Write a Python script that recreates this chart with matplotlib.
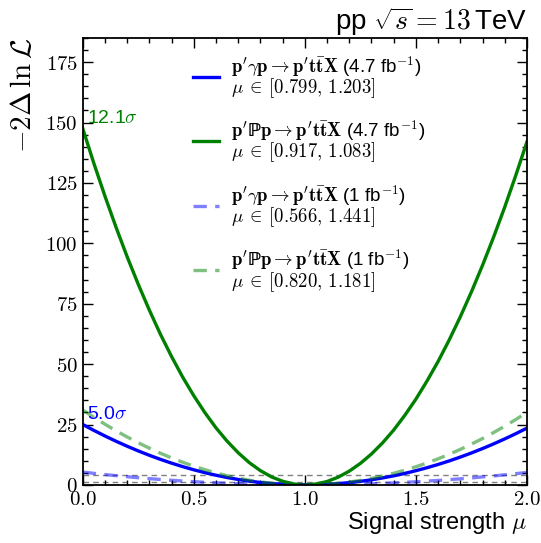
import matplotlib
matplotlib.use('Agg')
import matplotlib.pyplot as plt
from matplotlib.ticker import MultipleLocator, FuncFormatter

plt.rcParams['mathtext.fontset'] = 'cm'
plt.rcParams['font.family'] = ['Liberation Sans', 'DejaVu Sans']

# likelihood scan, -2 Delta ln L vs signal strength
mu = [0.00, 0.05, 0.10, 0.15, 0.20, 0.25, 0.30, 0.35, 0.40, 0.45,
      0.50, 0.55, 0.60, 0.65, 0.70, 0.75, 0.80, 0.85, 0.90, 0.95,
      1.00, 1.05, 1.10, 1.15, 1.20, 1.25, 1.30, 1.35, 1.40, 1.45,
      1.50, 1.55, 1.60, 1.65, 1.70, 1.75, 1.80, 1.85, 1.90, 1.95, 2.00]
nll_photon_47 = [25.0, 22.56, 20.25, 18.06, 16.0, 14.06, 12.25, 10.56, 9.0, 7.56,
                 6.25, 5.06, 4.0, 3.06, 2.25, 1.56, 1.0, 0.56, 0.25, 0.06,
                 0.0, 0.06, 0.24, 0.53, 0.94, 1.47, 2.12, 2.88, 3.76, 4.76,
                 5.88, 7.11, 8.46, 9.93, 11.52, 13.22, 15.04, 16.98, 19.04, 21.21, 23.5]
nll_pomeron_47 = [147.5, 133.1, 119.5, 106.6, 94.4, 83.0, 72.3, 62.3, 53.1, 44.6,
                  36.9, 29.9, 23.6, 18.1, 13.3, 9.2, 5.9, 3.3, 1.5, 0.37,
                  0.0, 0.36, 1.4, 3.2, 5.7, 8.9, 12.8, 17.4, 22.7, 28.8,
                  35.5, 43.0, 51.1, 60.0, 69.6, 79.9, 90.9, 102.6, 115.0, 128.2, 142.0]
nll_photon_1 = [5.3, 4.78, 4.29, 3.83, 3.39, 2.98, 2.6, 2.24, 1.91, 1.6,
                1.33, 1.07, 0.85, 0.65, 0.48, 0.33, 0.21, 0.12, 0.05, 0.01,
                0.0, 0.01, 0.05, 0.12, 0.21, 0.32, 0.46, 0.63, 0.82, 1.04,
                1.29, 1.56, 1.85, 2.18, 2.52, 2.9, 3.3, 3.72, 4.17, 4.65, 5.15]
nll_pomeron_1 = [31.0, 27.98, 25.11, 22.4, 19.84, 17.44, 15.19, 13.1, 11.16, 9.38,
                 7.75, 6.28, 4.96, 3.8, 2.79, 1.94, 1.24, 0.7, 0.31, 0.08,
                 0.0, 0.08, 0.3, 0.68, 1.2, 1.88, 2.7, 3.68, 4.8, 6.08,
                 7.5, 9.08, 10.8, 12.68, 14.7, 16.88, 19.2, 21.68, 24.3, 27.08, 30.0]

labels = [
    r"$\mathbf{p'\gamma p \rightarrow p't\bar{t}X}$ (4.7 fb$^{-1}$)" + "\n" + r"$\mu\:\in\:[0.799,\,1.203]$",
    r"$\mathbf{p'\mathbb{P}p \rightarrow p't\bar{t}X}$ (4.7 fb$^{-1}$)" + "\n" + r"$\mu\:\in\:[0.917,\,1.083]$",
    r"$\mathbf{p'\gamma p \rightarrow p't\bar{t}X}$ (1 fb$^{-1}$)" + "\n" + r"$\mu\:\in\:[0.566,\,1.441]$",
    r"$\mathbf{p'\mathbb{P}p \rightarrow p't\bar{t}X}$ (1 fb$^{-1}$)" + "\n" + r"$\mu\:\in\:[0.820,\,1.181]$",
]
sigma_levels = [1, 4]

fig = plt.figure(figsize=(5.41, 5.43), dpi=100)
ax = fig.add_axes([0.153, 0.107, 0.821, 0.823])

for lvl in sigma_levels:
    ax.axhline(lvl, color='grey', lw=1.0, ls=(0, (4, 3)), zorder=1)

ax.plot(mu, nll_photon_47, color='blue', lw=2.4, label=labels[0])
ax.plot(mu, nll_pomeron_47, color='green', lw=2.4, label=labels[1])
ax.plot(mu, nll_photon_1, color='blue', alpha=0.5, lw=2.4, ls=(0, (4, 2.5)), label=labels[2])
ax.plot(mu, nll_pomeron_1, color='green', alpha=0.5, lw=2.4, ls=(0, (4, 2.5)), label=labels[3])

ax.text(0.02, 151.5, r"12.1$\sigma$", color='green', fontsize=14, va='center')
ax.text(0.02, 29, r"5.0$\sigma$", color='blue', fontsize=14, va='center')

ax.set_xlim(0, 2)
ax.set_ylim(0, 185)
ax.xaxis.set_major_locator(MultipleLocator(0.5))
ax.xaxis.set_minor_locator(MultipleLocator(0.1))
ax.yaxis.set_major_locator(MultipleLocator(25))
ax.yaxis.set_minor_locator(MultipleLocator(5))
ax.xaxis.set_major_formatter(FuncFormatter(lambda v, p: r"$%.1f$" % v))
ax.yaxis.set_major_formatter(FuncFormatter(lambda v, p: r"$%d$" % v))
ax.tick_params(which='both', direction='in', top=True, right=True, labelsize=15, width=1.0)
ax.tick_params(which='major', length=7)
ax.tick_params(which='minor', length=3.5)
for s in ax.spines.values():
    s.set_linewidth(1.3)

ax.set_xlabel(r"Signal strength $\mu$", fontsize=17, loc='right', labelpad=1)
ax.set_ylabel(r"$-2\Delta\,\ln\mathcal{L}$", fontsize=21, loc='top', labelpad=6)
ax.set_title(r"pp $\sqrt{s} = 13\,$TeV", fontsize=20, loc='right', pad=5)

leg = ax.legend(loc='upper left', bbox_to_anchor=(0.21, 1.003), frameon=False, fontsize=13.5,
                handlelength=1.4, labelspacing=0.98, handletextpad=0.65)
for t in leg.get_texts():
    t.set_linespacing(0.85)

fig.savefig('out.png', dpi=100)
